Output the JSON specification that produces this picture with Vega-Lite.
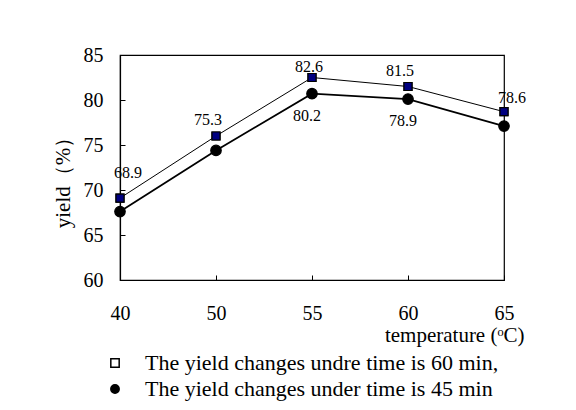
{
  "$schema": "https://vega.github.io/schema/vega-lite/v6.json",
  "width": 384,
  "height": 225,
  "autosize": {"type": "none"},
  "padding": {"left": 120, "top": 55, "right": 72, "bottom": 130},
  "background": "white",
  "config": {
    "view": {"stroke": "black", "strokeWidth": 1.2},
    "font": "Liberation Serif, Times New Roman, serif",
    "text": {"font": "Liberation Serif, Times New Roman, serif"},
    "legend": {"labelFont": "Liberation Serif, Times New Roman, serif"},
    "axis": {"labelFont": "Liberation Serif, Times New Roman, serif", "titleFont": "Liberation Serif, Times New Roman, serif", "labelColor": "black", "titleColor": "black", "domainColor": "black", "tickColor": "black", "titleFontWeight": "normal", "grid": false}
  },
  "data": {
    "values": [
      {"temperature": 40, "series": "60 min", "yield": 69.1, "label": "68.9"},
      {"temperature": 50, "series": "60 min", "yield": 76.0, "label": "75.3"},
      {"temperature": 55, "series": "60 min", "yield": 82.5, "label": "82.6"},
      {"temperature": 60, "series": "60 min", "yield": 81.5, "label": "81.5"},
      {"temperature": 65, "series": "60 min", "yield": 78.7, "label": "78.6"},
      {"temperature": 40, "series": "45 min", "yield": 67.6, "label": ""},
      {"temperature": 50, "series": "45 min", "yield": 74.4, "label": ""},
      {"temperature": 55, "series": "45 min", "yield": 80.7, "label": "80.2"},
      {"temperature": 60, "series": "45 min", "yield": 80.1, "label": "78.9"},
      {"temperature": 65, "series": "45 min", "yield": 77.1, "label": ""}
    ]
  },
  "encoding": {
    "x": {
      "field": "temperature", "type": "ordinal",
      "scale": {"type": "point", "padding": 0},
      "axis": {"labelAngle": 0, "labelFontSize": 20, "tickSize": -5, "labelPadding": 28, "domainWidth": 1.2,
        "title": "temperature (ᵒC)", "titleFontSize": 21, "titleAnchor": "end", "titleAlign": "right", "titleX": 404, "titleY": 61, "titleBaseline": "alphabetic"}
    },
    "y": {
      "field": "yield", "type": "quantitative",
      "scale": {"domain": [60, 85], "nice": false, "zero": false},
      "axis": {"values": [60, 65, 70, 75, 80, 85], "labelFontSize": 20, "tickSize": -5, "labelPadding": 22, "domainWidth": 1.2,
        "title": "yield（%）", "titleFontSize": 21, "titleX": -57, "titleY": 122, "titleBaseline": "middle"}
    }
  },
  "layer": [
    {
      "mark": {"type": "line", "color": "black"},
      "encoding": {
        "detail": {"field": "series"},
        "strokeWidth": {"condition": {"test": "datum.series == '60 min'", "value": 1}, "value": 1.8}
      }
    },
    {
      "mark": {"type": "point", "filled": true, "stroke": "black", "strokeWidth": 1.2, "opacity": 1},
      "encoding": {
        "shape": {"field": "series", "type": "nominal", "scale": {"domain": ["60 min", "45 min"], "range": ["square", "circle"]},
          "legend": {
            "orient": "none", "legendX": -16, "legendY": 297, "title": null,
            "labelExpr": "datum.value == '60 min' ? 'The yield changes undre time is 60 min,' : 'The yield changes under time is 45 min'",
            "labelFontSize": 22, "labelColor": "black", "labelOffset": 19, "rowPadding": 4, "symbolSize": 70,
            "symbolOpacity": 1,
            "labelLimit": 500,
            "encode": {"symbols": {"update": {"stroke": {"value": "black"}, "strokeWidth": {"value": 1.3}}}}
          }},
        "fill": {"field": "series", "type": "nominal", "scale": {"domain": ["60 min", "45 min"], "range": ["white", "black"]}},
        "size": {"condition": {"test": "datum.series == '60 min'", "value": 64}, "value": 110}
      }
    },
    {
      "transform": [{"filter": "datum.series == '60 min'"}],
      "mark": {"type": "point", "shape": "square", "filled": true, "fill": "#000080", "stroke": "black", "strokeWidth": 1.2, "opacity": 1, "size": 64},
      "encoding": {}
    },
    {
      "transform": [{"filter": "datum.series == '60 min' && datum.temperature == 40"}],
      "mark": {"type": "text", "fontSize": 16, "dx": 8, "dy": -25, "baseline": "middle", "color": "black"},
      "encoding": {"text": {"field": "label"}}
    },
    {
      "transform": [{"filter": "datum.series == '60 min' && (datum.temperature == 50 || datum.temperature == 60)"}],
      "mark": {"type": "text", "fontSize": 16, "dx": -8, "dy": -16, "baseline": "middle", "color": "black"},
      "encoding": {"text": {"field": "label"}}
    },
    {
      "transform": [{"filter": "datum.series == '60 min' && datum.temperature == 55"}],
      "mark": {"type": "text", "fontSize": 16, "dx": -3, "dy": -11, "baseline": "middle", "color": "black"},
      "encoding": {"text": {"field": "label"}}
    },
    {
      "transform": [{"filter": "datum.series == '60 min' && datum.temperature == 65"}],
      "mark": {"type": "text", "fontSize": 16, "dx": 8, "dy": -14, "baseline": "middle", "color": "black"},
      "encoding": {"text": {"field": "label"}}
    },
    {
      "transform": [{"filter": "datum.series == '45 min' && datum.label != ''"}],
      "mark": {"type": "text", "fontSize": 16, "dx": -5, "dy": 22, "baseline": "middle", "color": "black"},
      "encoding": {"text": {"field": "label"}}
    }
  ]
}
